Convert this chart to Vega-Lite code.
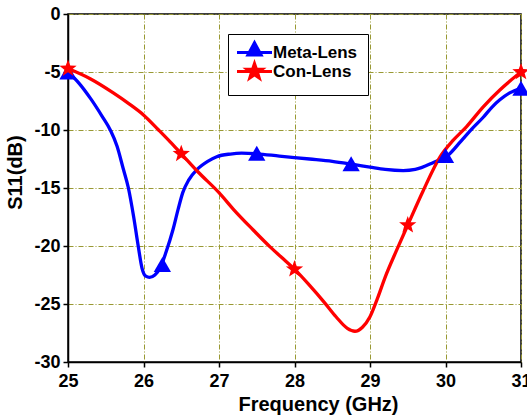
{
  "$schema": "https://vega.github.io/schema/vega-lite/v6.json",
  "width": 453,
  "height": 348,
  "autosize": {"type": "none"},
  "padding": {"left": 68, "top": 14, "right": 6, "bottom": 56},
  "background": "white",
  "config": {
    "view": {"stroke": "#000000", "strokeWidth": 1.5},
    "font": "Liberation Sans",
    "axis": {
      "domainColor": "#000000",
      "domainWidth": 1.5,
      "tickColor": "#000000",
      "tickWidth": 1.5,
      "labelColor": "#000000",
      "labelFont": "Liberation Sans",
      "labelFontWeight": "bold",
      "labelFontSize": 18,
      "titleFont": "Liberation Sans",
      "titleFontWeight": "bold",
      "titleFontSize": 20,
      "titleColor": "#000000",
      "gridColor": "#999933",
      "gridDash": [5, 2, 1, 2],
      "gridWidth": 1
    }
  },
  "datasets": {
    "curves": [
      {"series": "Meta-Lens", "f": 25.0, "s11": -5.0},
      {"series": "Meta-Lens", "f": 25.15, "s11": -6.0},
      {"series": "Meta-Lens", "f": 25.3, "s11": -7.3},
      {"series": "Meta-Lens", "f": 25.45, "s11": -8.8},
      {"series": "Meta-Lens", "f": 25.56, "s11": -10.0},
      {"series": "Meta-Lens", "f": 25.65, "s11": -11.4},
      {"series": "Meta-Lens", "f": 25.73, "s11": -13.3},
      {"series": "Meta-Lens", "f": 25.8, "s11": -15.0},
      {"series": "Meta-Lens", "f": 25.87, "s11": -17.5},
      {"series": "Meta-Lens", "f": 25.93, "s11": -20.0},
      {"series": "Meta-Lens", "f": 25.98, "s11": -21.9},
      {"series": "Meta-Lens", "f": 26.03, "s11": -22.6},
      {"series": "Meta-Lens", "f": 26.08, "s11": -22.7},
      {"series": "Meta-Lens", "f": 26.15, "s11": -22.5},
      {"series": "Meta-Lens", "f": 26.22, "s11": -21.9},
      {"series": "Meta-Lens", "f": 26.3, "s11": -20.5},
      {"series": "Meta-Lens", "f": 26.39, "s11": -18.6},
      {"series": "Meta-Lens", "f": 26.46, "s11": -16.8},
      {"series": "Meta-Lens", "f": 26.52, "s11": -15.4},
      {"series": "Meta-Lens", "f": 26.6, "s11": -14.3},
      {"series": "Meta-Lens", "f": 26.71, "s11": -13.4},
      {"series": "Meta-Lens", "f": 26.85, "s11": -12.7},
      {"series": "Meta-Lens", "f": 26.97, "s11": -12.3},
      {"series": "Meta-Lens", "f": 27.15, "s11": -12.07},
      {"series": "Meta-Lens", "f": 27.3, "s11": -12.0},
      {"series": "Meta-Lens", "f": 27.5, "s11": -12.05},
      {"series": "Meta-Lens", "f": 27.8, "s11": -12.25},
      {"series": "Meta-Lens", "f": 28.2, "s11": -12.5},
      {"series": "Meta-Lens", "f": 28.5, "s11": -12.7},
      {"series": "Meta-Lens", "f": 28.76, "s11": -12.95},
      {"series": "Meta-Lens", "f": 29.0, "s11": -13.2},
      {"series": "Meta-Lens", "f": 29.2, "s11": -13.4},
      {"series": "Meta-Lens", "f": 29.44, "s11": -13.5},
      {"series": "Meta-Lens", "f": 29.6, "s11": -13.4},
      {"series": "Meta-Lens", "f": 29.84, "s11": -12.8},
      {"series": "Meta-Lens", "f": 30.03, "s11": -12.2},
      {"series": "Meta-Lens", "f": 30.2, "s11": -11.0},
      {"series": "Meta-Lens", "f": 30.35, "s11": -9.9},
      {"series": "Meta-Lens", "f": 30.5, "s11": -8.9},
      {"series": "Meta-Lens", "f": 30.62, "s11": -8.0},
      {"series": "Meta-Lens", "f": 30.72, "s11": -7.4},
      {"series": "Meta-Lens", "f": 30.85, "s11": -6.8},
      {"series": "Meta-Lens", "f": 31.0, "s11": -6.4},
      {"series": "Con-Lens", "f": 25.0, "s11": -4.7},
      {"series": "Con-Lens", "f": 25.3, "s11": -5.6},
      {"series": "Con-Lens", "f": 25.6, "s11": -6.8},
      {"series": "Con-Lens", "f": 25.8, "s11": -7.7},
      {"series": "Con-Lens", "f": 26.0, "s11": -8.7},
      {"series": "Con-Lens", "f": 26.2, "s11": -10.0},
      {"series": "Con-Lens", "f": 26.35, "s11": -11.0},
      {"series": "Con-Lens", "f": 26.5, "s11": -12.05},
      {"series": "Con-Lens", "f": 26.72, "s11": -13.6},
      {"series": "Con-Lens", "f": 27.0, "s11": -15.4},
      {"series": "Con-Lens", "f": 27.2, "s11": -16.9},
      {"series": "Con-Lens", "f": 27.45, "s11": -18.6},
      {"series": "Con-Lens", "f": 27.68, "s11": -20.1},
      {"series": "Con-Lens", "f": 27.85, "s11": -21.1},
      {"series": "Con-Lens", "f": 28.0, "s11": -22.0},
      {"series": "Con-Lens", "f": 28.2, "s11": -23.4},
      {"series": "Con-Lens", "f": 28.4, "s11": -24.9},
      {"series": "Con-Lens", "f": 28.55, "s11": -26.1},
      {"series": "Con-Lens", "f": 28.7, "s11": -27.1},
      {"series": "Con-Lens", "f": 28.8, "s11": -27.35},
      {"series": "Con-Lens", "f": 28.9, "s11": -27.0},
      {"series": "Con-Lens", "f": 29.0, "s11": -26.1},
      {"series": "Con-Lens", "f": 29.1, "s11": -24.5},
      {"series": "Con-Lens", "f": 29.2, "s11": -22.7},
      {"series": "Con-Lens", "f": 29.35, "s11": -20.4},
      {"series": "Con-Lens", "f": 29.5, "s11": -18.2},
      {"series": "Con-Lens", "f": 29.7, "s11": -15.3},
      {"series": "Con-Lens", "f": 29.93, "s11": -12.3},
      {"series": "Con-Lens", "f": 30.1, "s11": -10.9},
      {"series": "Con-Lens", "f": 30.28, "s11": -9.7},
      {"series": "Con-Lens", "f": 30.5, "s11": -8.0},
      {"series": "Con-Lens", "f": 30.72, "s11": -6.55},
      {"series": "Con-Lens", "f": 30.85, "s11": -5.8},
      {"series": "Con-Lens", "f": 31.0, "s11": -5.0}
    ],
    "markers": [
      {"series": "Meta-Lens", "f": 25.0, "s11": -5.0},
      {"series": "Meta-Lens", "f": 26.25, "s11": -21.6},
      {"series": "Meta-Lens", "f": 27.5, "s11": -12.0},
      {"series": "Meta-Lens", "f": 28.75, "s11": -12.9},
      {"series": "Meta-Lens", "f": 30.0, "s11": -12.2},
      {"series": "Meta-Lens", "f": 31.0, "s11": -6.4},
      {"series": "Con-Lens", "f": 25.0, "s11": -4.7},
      {"series": "Con-Lens", "f": 26.5, "s11": -12.05},
      {"series": "Con-Lens", "f": 28.0, "s11": -22.0},
      {"series": "Con-Lens", "f": 29.5, "s11": -18.2},
      {"series": "Con-Lens", "f": 31.0, "s11": -5.0}
    ]
  },
  "layer": [
    {
      "data": {"name": "curves"},
      "mark": {"type": "line", "interpolate": "monotone", "strokeWidth": 3.3, "clip": true},
      "encoding": {
        "x": {
          "field": "f",
          "type": "quantitative",
          "scale": {"domain": [25, 31], "nice": false, "zero": false},
          "axis": {
            "title": "Frequency (GHz)",
            "values": [25, 25.5, 26, 26.5, 27, 27.5, 28, 28.5, 29, 29.5, 30, 30.5, 31],
            "labelExpr": "datum.value % 1 === 0 ? '' + datum.value : ''",
            "tickSize": {"condition": {"test": "datum.value % 1 === 0", "value": 5}, "value": 3},
            "gridOpacity": {"condition": {"test": "datum.value % 1 === 0", "value": 1}, "value": 0},
            "labelPadding": 5,
            "labelFlush": false,
            "labelOverlap": false,
            "titleX": 250,
            "titlePadding": 4
          }
        },
        "y": {
          "field": "s11",
          "type": "quantitative",
          "scale": {"domain": [-30, 0], "nice": false, "zero": false},
          "axis": {
            "title": "S11(dB)",
            "values": [-30, -27.5, -25, -22.5, -20, -17.5, -15, -12.5, -10, -7.5, -5, -2.5, 0],
            "labelExpr": "datum.value % 5 === 0 ? '' + datum.value : ''",
            "tickSize": {"condition": {"test": "datum.value % 5 === 0", "value": 5}, "value": 3},
            "gridOpacity": {"condition": {"test": "datum.value % 5 === 0", "value": 1}, "value": 0},
            "labelPadding": 3,
            "labelFlush": false,
            "labelOverlap": false,
            "titleY": 158,
            "titlePadding": 8
          }
        },
        "color": {
          "field": "series",
          "type": "nominal",
          "scale": {"domain": ["Meta-Lens", "Con-Lens"], "range": ["#0000ff", "#ff0000"]},
          "legend": {
            "title": null,
            "orient": "none",
            "legendX": 160,
            "legendY": 20,
            "padding": 10,
            "strokeColor": "#000000",
            "fillColor": "#ffffff",
            "labelFont": "Liberation Sans",
            "labelFontWeight": "bold",
            "labelFontSize": 17,
            "labelColor": "#000000",
            "labelOffset": 10,
            "symbolOffset": 8,
            "symbolSize": 196,
            "rowPadding": -4,
            "encode": {
              "symbols": {
                "update": {
                  "shape": {"signal": "datum.value === 'Meta-Lens' ? 'M-2.5,0H2.5M0,-1.4L0.95,0.35L-0.95,0.35Z' : 'M-2.5,0H2.5M0,-1.15L0.27,-0.37L1.1,-0.35L0.44,0.14L0.68,0.93L0,0.46L-0.68,0.93L-0.44,0.14L-1.1,-0.35L-0.27,-0.37Z'"},
                  "fill": {"signal": "datum.value === 'Meta-Lens' ? '#0000ff' : '#ff0000'"},
                  "stroke": {"signal": "datum.value === 'Meta-Lens' ? '#0000ff' : '#ff0000'"},
                  "strokeWidth": {"value": 3},
                  "size": {"value": 196},
                  "opacity": {"value": 1}
                }
              }
            }
          }
        },
        "detail": {"field": "series"}
      }
    },
    {
      "data": {"name": "markers"},
      "transform": [{"filter": "datum.series === 'Meta-Lens'"}],
      "mark": {"type": "point", "shape": "triangle-up", "filled": true, "opacity": 1, "size": 300, "clip": false},
      "encoding": {
        "x": {"field": "f", "type": "quantitative"},
        "y": {"field": "s11", "type": "quantitative"},
        "color": {"field": "series", "type": "nominal"}
      }
    },
    {
      "data": {"name": "markers"},
      "transform": [{"filter": "datum.series === 'Con-Lens'"}],
      "mark": {"type": "point", "shape": "M0,-1.05L0.26,-0.34L1.0,-0.32L0.42,0.13L0.62,0.85L0,0.44L-0.62,0.85L-0.42,0.13L-1.0,-0.32L-0.26,-0.34Z", "filled": true, "opacity": 1, "size": 300, "clip": false},
      "encoding": {
        "x": {"field": "f", "type": "quantitative"},
        "y": {"field": "s11", "type": "quantitative"},
        "color": {"field": "series", "type": "nominal"}
      }
    }
  ]
}
